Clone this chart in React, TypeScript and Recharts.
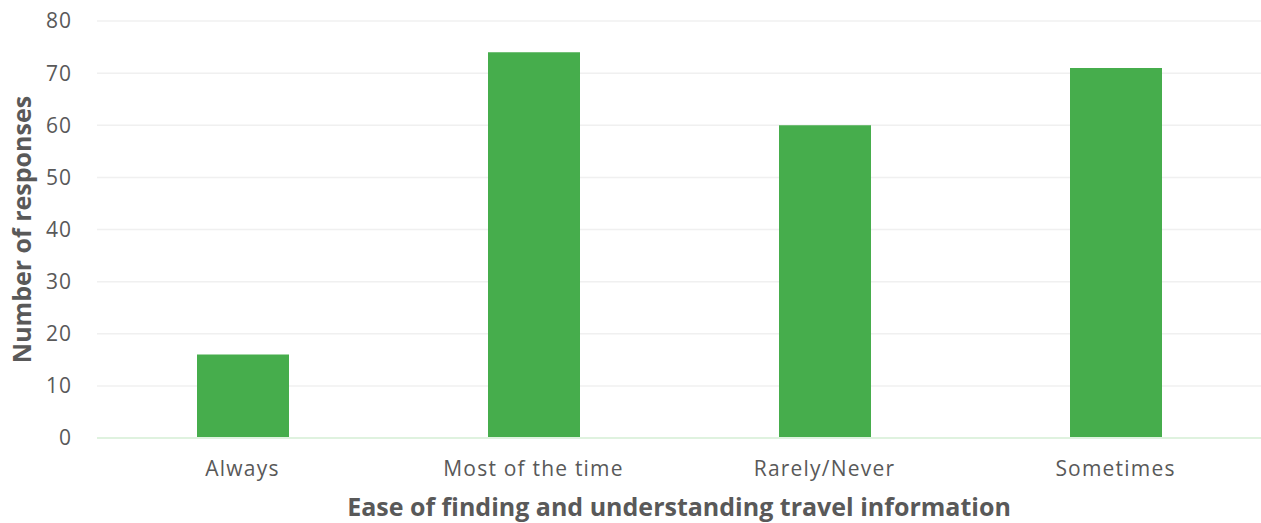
import { BarChart, Bar, XAxis, YAxis, CartesianGrid } from 'recharts';

const categories = ['Always', 'Most of the time', 'Rarely/Never', 'Sometimes'];
const responses = [16, 74, 60, 71];
const yTicks = [0, 10, 20, 30, 40, 50, 60, 70, 80];

const data = categories.map((name, i) => ({ name, value: responses[i] }));

const TEXT = '#595959';

export default function App() {
    return (
        <div style={{ position: 'absolute', left: 0, top: 0, background: '#fff' }}>
            <BarChart
                width={1261}
                height={523}
                data={data}
                margin={{ top: 21, right: 0, left: 0, bottom: 0 }}
            >
                <CartesianGrid vertical={false} stroke="#f0f0f0" strokeWidth={1.5} />
                <XAxis
                    dataKey="name"
                    height={85}
                    tickSize={0}
                    tickMargin={23}
                    axisLine={{ stroke: '#dff2df', strokeWidth: 2 }}
                    tick={{ fill: TEXT, fontSize: 21, fontFamily: 'Open Sans', letterSpacing: 1.2 }}
                    label={{
                        value: 'Ease of finding and understanding travel information',
                        position: 'insideBottom',
                        offset: 7,
                        fill: TEXT,
                        fontSize: 25,
                        fontWeight: 'bold',
                        fontFamily: 'Open Sans',
                    }}
                />
                <YAxis
                    width={97}
                    domain={[0, 80]}
                    ticks={yTicks}
                    tickSize={0}
                    tickMargin={25}
                    axisLine={false}
                    tickLine={false}
                    tick={{ fill: TEXT, fontSize: 21, fontFamily: 'Open Sans', letterSpacing: 1 }}
                    label={{
                        value: 'Number of responses',
                        angle: -90,
                        position: 'center',
                        dx: -26,
                        fill: TEXT,
                        fontSize: 25,
                        fontWeight: 'bold',
                        fontFamily: 'Open Sans',
                    }}
                />
                <Bar dataKey="value" fill="#46ad4c" barSize={92} isAnimationActive={false} />
            </BarChart>
        </div>
    );
}
